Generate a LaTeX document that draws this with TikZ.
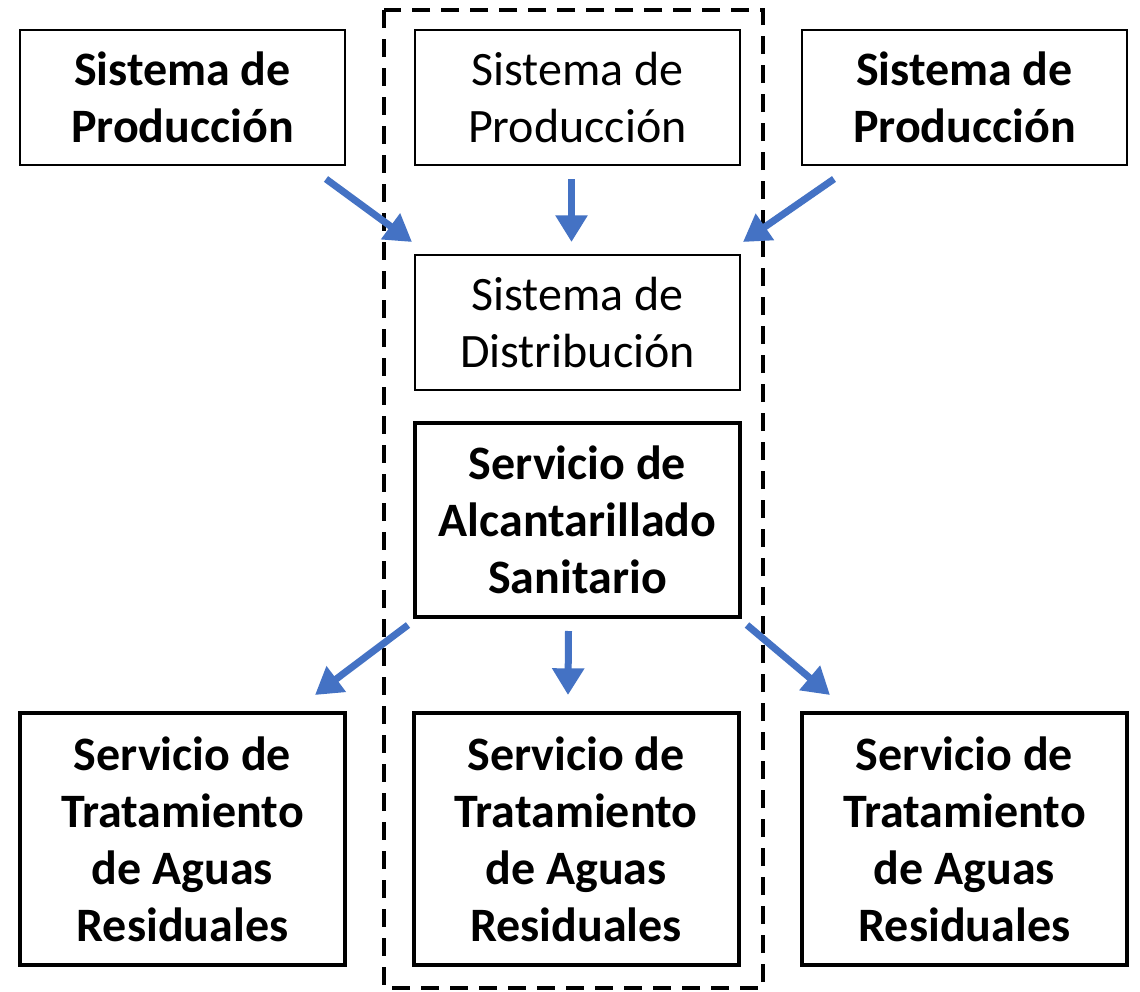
\documentclass[tikz,border=0pt]{standalone}
\usepackage{fontspec}
\setmainfont{Carlito}
\usetikzlibrary{calc,arrows.meta}
\definecolor{arrowblue}{RGB}{68,114,196}
\begin{document}
\begin{tikzpicture}[x=0.75pt,y=-0.75pt,
  boxtext/.style={align=center,inner sep=0pt,font=\fontsize{36}{42.75}\selectfont},
  thinbox/.style={boxtext,draw=black,line width=1.5pt,minimum width=243.75pt},
  thickbox/.style={boxtext,draw=black,line width=3pt,minimum width=243.75pt,font=\fontsize{36}{42.75}\selectfont\bfseries},
  boldthin/.style={thinbox,font=\fontsize{36}{42.75}\selectfont\bfseries},
  flow/.style={draw=arrowblue,line width=5.25pt,-{Triangle[width=23pt,length=20pt]},arrowblue},
  groupframe/.style={draw=black,line width=2.6pt,dash pattern=on 13.5pt off 8.25pt}
]
\useasboundingbox (0,0) rectangle (1140,992);
\fill[white] (0,0) rectangle (1140,992);

% dashed group
\draw[groupframe] (384,10) rectangle (763,988);

% top row
\node[boldthin,minimum height=101.25pt] (tl) at (182.5,97.5) {Sistema de\\Producción};
\node[thinbox,minimum height=101.25pt] (tc) at (577.5,97.5) {Sistema de\\Producción};
\node[boldthin,minimum height=101.25pt] (tr) at (964.5,97.5) {Sistema de\\Producción};

% distribution
\node[thinbox,minimum height=101.25pt] (dist) at (577.5,322.5) {Sistema de\\Distribución};

% sewer
\node[thickbox,minimum height=145.5pt] (alc) at (577.5,520) {Servicio de\\Alcantarillado\\Sanitario};

% bottom row
\node[thickbox,minimum height=189pt] (bl) at (182.5,839) {Servicio de\\Tratamiento\\de Aguas\\Residuales};
\node[thickbox,minimum height=189pt] (bc) at (576,839) {Servicio de\\Tratamiento\\de Aguas\\Residuales};
\node[thickbox,minimum height=189pt] (br) at (964.5,839) {Servicio de\\Tratamiento\\de Aguas\\Residuales};

% arrows
\draw[flow] ($(tl.south east)+(-20,13)$) -- ($(dist.north west)+(-2,-12)$);
\draw[flow] ($(tc.south)+(-6,13)$) -- ($(dist.north)+(-6,-12)$);
\draw[flow] ($(tr.south west)+(33,13)$) -- ($(dist.north east)+(2,-12)$);
\draw[flow] ($(alc.south west)+(-5,6)$) -- ($(bl.north east)+(-32,-16)$);
\draw[flow] ($(alc.south)+(-9,12)$) -- ($(bc.north)+(-8,-16)$);
\draw[flow] ($(alc.south east)+(5,6)$) -- ($(br.north west)+(30,-16)$);
\end{tikzpicture}
\end{document}
